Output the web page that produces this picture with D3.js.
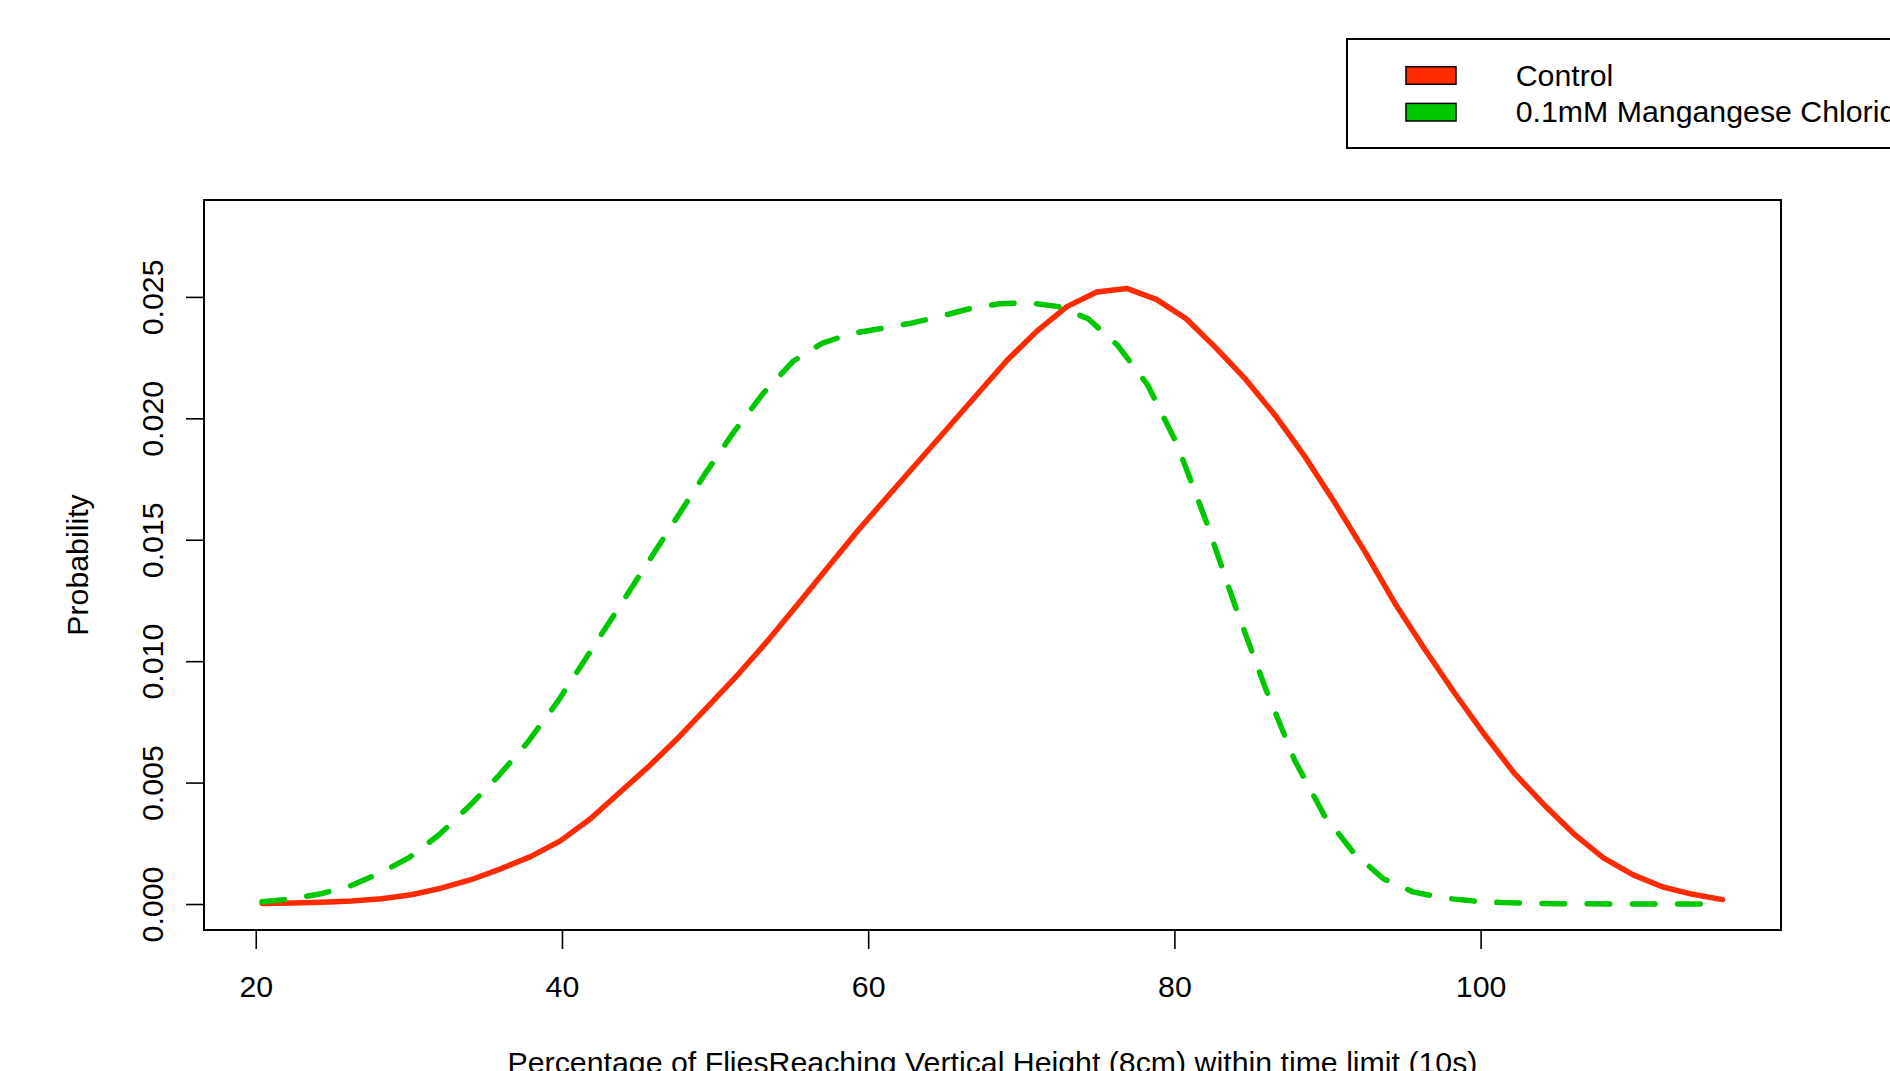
<!DOCTYPE html>
<html>
<head>
<meta charset="utf-8">
<script src="https://cdn.jsdelivr.net/npm/d3@7"></script>
<style>
  html, body { margin: 0; padding: 0; background: #ffffff; overflow: hidden; }
  svg { display: block; font-family: "Liberation Sans", Arial, Helvetica, sans-serif; }
</style>
</head>
<body>
<svg id="chart" width="1890" height="1071"></svg>
<script>
// ---- data ----
const seriesNames = ["Control", "0.1mM Mangangese Chloride"];
const seriesColors = ["#ff2a00", "#00c800"];

const controlX = [20.43, 22.38, 24.32, 26.27, 28.22, 30.16, 32.11, 34.05, 36.00, 37.95,
  39.89, 41.84, 43.79, 45.73, 47.68, 49.63, 51.57, 53.52, 55.47, 57.41,
  59.36, 61.30, 63.25, 65.20, 67.14, 69.09, 71.04, 72.98, 74.93, 76.88,
  78.82, 80.77, 82.71, 84.66, 86.61, 88.55, 90.50, 92.45, 94.39, 96.34,
  98.29, 100.23, 102.18, 104.12, 106.07, 108.02, 109.96, 111.91, 113.86, 115.80];
const controlY = [0.00002, 0.00004, 0.00007, 0.00012, 0.00022, 0.00038, 0.00065, 0.00100, 0.00145, 0.00195,
  0.00260, 0.00350, 0.00460, 0.00570, 0.00690, 0.00820, 0.00950, 0.01090, 0.01240, 0.01390,
  0.01540, 0.01680, 0.01820, 0.01960, 0.02100, 0.02240, 0.02360, 0.02460, 0.02520, 0.02535,
  0.02490, 0.02410, 0.02290, 0.02160, 0.02010, 0.01840, 0.01650, 0.01450, 0.01240, 0.01050,
  0.00870, 0.00700, 0.00540, 0.00410, 0.00290, 0.00190, 0.00120, 0.00070, 0.00040, 0.00018];

const manganeseX = [20.40, 22.33, 24.26, 26.18, 28.11, 30.04, 31.97, 33.89, 35.82, 37.75,
  39.68, 41.60, 43.53, 45.46, 47.39, 49.31, 51.24, 53.17, 55.10, 57.02,
  58.95, 60.88, 62.81, 64.73, 66.66, 68.59, 70.52, 72.44, 74.37, 76.30,
  78.23, 80.16, 82.08, 84.01, 85.94, 87.87, 89.79, 91.72, 93.65, 95.58,
  97.50, 99.43, 101.36, 103.29, 105.21, 107.14, 109.07, 111.00, 112.92, 114.85];
const manganeseY = [0.00009, 0.00021, 0.00042, 0.00075, 0.00127, 0.00192, 0.00285, 0.00400, 0.00525, 0.00665,
  0.00830, 0.01015, 0.01203, 0.01392, 0.01580, 0.01768, 0.01945, 0.02105, 0.02235, 0.02310,
  0.02350, 0.02370, 0.02392, 0.02420, 0.02452, 0.02472, 0.02476, 0.02460, 0.02410, 0.02300,
  0.02140, 0.01895, 0.01575, 0.01220, 0.00890, 0.00590, 0.00365, 0.00210, 0.00104, 0.00050,
  0.00025, 0.00013, 0.00006, 0.00003, 0.00001, 0.00001, 0.00000, 0.00000, 0.00000, 0.00000];

const xTicks = [20, 40, 60, 80, 100];
const yTicks = [0, 0.005, 0.010, 0.015, 0.020, 0.025];
const yTickLabels = ["0.000", "0.005", "0.010", "0.015", "0.020", "0.025"];
const xTitle = "Percentage of FliesReaching Vertical Height (8cm) within time limit (10s)";
const yTitle = "Probability";

// ---- layout ----
const plot = { left: 204, top: 200, right: 1781, bottom: 930 };
const fontSize = 30.3;
const fontFamily = '"Liberation Sans", Arial, sans-serif';

const svg = d3.select("#chart");
svg.append("rect").attr("width", 1890).attr("height", 1071).attr("fill", "#ffffff");

const x = d3.scaleLinear().domain([16.62, 119.62]).range([plot.left, plot.right]);
const y = d3.scaleLinear().domain([-0.00107, 0.02899]).range([plot.bottom, plot.top]);

// curves
const series = [
  { x: controlX, y: controlY, color: seriesColors[0], dash: null },
  { x: manganeseX, y: manganeseY, color: seriesColors[1], dash: "22.6 22.6" }
];
const line = d3.line().x(d => x(d[0])).y(d => y(d[1]));
series.forEach(s => {
  const pts = s.x.map((v, i) => [v, s.y[i]]);
  const p = svg.append("path")
    .datum(pts)
    .attr("d", line)
    .attr("fill", "none")
    .attr("stroke", s.color)
    .attr("stroke-width", 5.5)
    .attr("stroke-linejoin", "round")
    .attr("stroke-linecap", "round");
  if (s.dash) p.attr("stroke-dasharray", s.dash);
});

// x axis
const xAxis = d3.axisBottom(x).tickValues(xTicks).tickSize(19).tickPadding(26.5).tickSizeOuter(0)
  .tickFormat(d3.format("d"));
const gx = svg.append("g").attr("transform", `translate(0,${plot.bottom})`).call(xAxis);
gx.select(".domain").remove();
gx.selectAll(".tick line").attr("stroke", "#000").attr("stroke-width", 1.6);
gx.selectAll(".tick text").attr("fill", "#000").style("font-size", fontSize + "px")
  .style("font-family", fontFamily);

// y axis (labels rotated, R style)
const yAxis = d3.axisLeft(y).tickValues(yTicks).tickSize(18).tickSizeOuter(0)
  .tickFormat((d, i) => yTickLabels[i]);
const gy = svg.append("g").attr("transform", `translate(${plot.left},0)`).call(yAxis);
gy.select(".domain").remove();
gy.selectAll(".tick line").attr("stroke", "#000").attr("stroke-width", 1.6);
gy.selectAll(".tick text")
  .attr("fill", "#000")
  .attr("x", 0).attr("y", 0).attr("dy", 0)
  .attr("text-anchor", "middle")
  .attr("transform", "translate(-41,0) rotate(-90)")
  .style("font-size", fontSize + "px")
  .style("font-family", fontFamily);

// plot box
svg.append("rect")
  .attr("x", plot.left).attr("y", plot.top)
  .attr("width", plot.right - plot.left).attr("height", plot.bottom - plot.top)
  .attr("fill", "none").attr("stroke", "#000").attr("stroke-width", 2);

// axis titles
svg.append("text")
  .attr("x", (plot.left + plot.right) / 2).attr("y", 1073)
  .attr("text-anchor", "middle").attr("fill", "#000")
  .style("font-size", fontSize + "px")
  .text(xTitle);
svg.append("text")
  .attr("transform", `translate(88,${(plot.top + plot.bottom) / 2}) rotate(-90)`)
  .attr("text-anchor", "middle").attr("fill", "#000")
  .style("font-size", fontSize + "px")
  .text(yTitle);

// legend
const lg = svg.append("g");
lg.append("rect").attr("x", 1347).attr("y", 39).attr("width", 620).attr("height", 109)
  .attr("fill", "#fff").attr("stroke", "#000").attr("stroke-width", 2);
const legendRowY = [75.5, 112.2];
seriesNames.forEach((name, i) => {
  lg.append("rect")
    .attr("x", 1406).attr("y", legendRowY[i] - 8.8).attr("width", 50).attr("height", 17.6)
    .attr("fill", seriesColors[i]).attr("stroke", "#000").attr("stroke-width", 1.5);
  lg.append("text")
    .attr("x", 1515.7).attr("y", legendRowY[i] + 10)
    .attr("fill", "#000").style("font-size", fontSize + "px")
    .text(name);
});
</script>
</body>
</html>
